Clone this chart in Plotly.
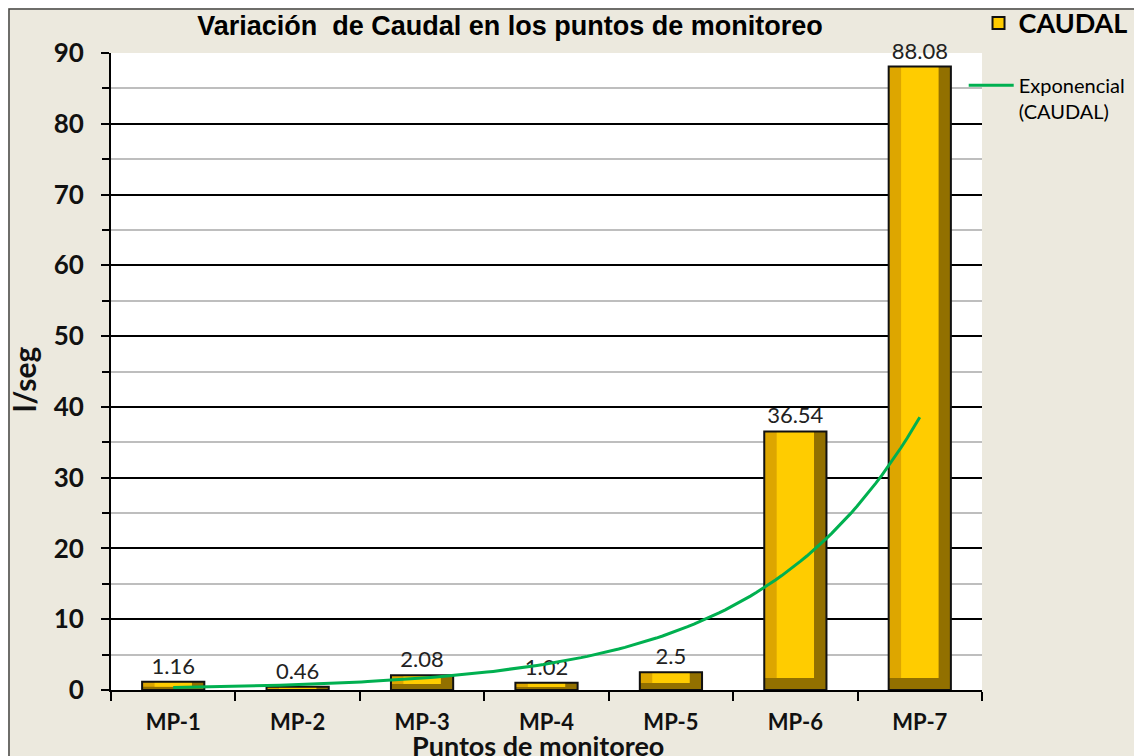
import numpy as np
import plotly.graph_objects as go

categories = ["MP-1", "MP-2", "MP-3", "MP-4", "MP-5", "MP-6", "MP-7"]
caudal = [1.16, 0.46, 2.08, 1.02, 2.5, 36.54, 88.08]
labels = ["1.16", "0.46", "2.08", "1.02", "2.5", "36.54", "88.08"]
y_ticks = [0, 10, 20, 30, 40, 50, 60, 70, 80, 90]

xpos = np.arange(1, len(categories) + 1)
vals = np.array(caudal)

# Excel-style exponential trendline (least squares on ln y)
b, ln_a = np.polyfit(xpos, np.log(vals), 1)
xt = np.linspace(1, len(categories), 120)
yt = np.exp(ln_a) * np.exp(b * xt)

BW = 0.5      # bar width (data units)
BV = 0.1      # side bevel width
hb = np.minimum(1.7, vals * 0.4)  # bottom bevel height

CALIBRI = "Lato, Carlito, Calibri, sans-serif"

W, H = 1130, 748
L, T, R, B = 103, 45, 156, 66
PW, PH = W - L - R, H - T - B

fig = go.Figure()
# dark body (right + bottom bevel)
fig.add_trace(go.Bar(x=xpos, y=vals, width=BW, offset=-BW / 2,
                     marker=dict(color="#927000", line=dict(width=0)),
                     showlegend=False, hoverinfo="skip"))
# left bevel
fig.add_trace(go.Bar(x=xpos, y=vals - hb, base=hb, width=BW - BV, offset=-BW / 2,
                     marker=dict(color="#DDA600", line=dict(width=0)),
                     showlegend=False, hoverinfo="skip"))
# face
fig.add_trace(go.Bar(x=xpos, y=vals - hb, base=hb, width=BW - 2 * BV, offset=-BW / 2 + BV,
                     marker=dict(color="#FFCC00", line=dict(width=0)),
                     showlegend=False, hoverinfo="skip"))
# outline + labels
fig.add_trace(go.Bar(x=xpos, y=vals, width=BW, offset=-BW / 2,
                     marker=dict(color="rgba(0,0,0,0)", line=dict(color="#111111", width=2)),
                     text=labels, textposition="outside", cliponaxis=False,
                     textfont=dict(family=CALIBRI, size=22, color="#222222"),
                     showlegend=False, hoverinfo="skip"))
# legend entry for bars
fig.add_trace(go.Bar(x=[None], y=[None], name="<b>CAUDAL</b>",
                     marker=dict(color="#FFCC00", line=dict(color="#111111", width=2)),
                     legend="legend", hoverinfo="skip"))
# trendline
fig.add_trace(go.Scatter(x=xt, y=yt, mode="lines", name="Exponencial<br>(CAUDAL)",
                         line=dict(color="#00B050", width=3), legend="legend2",
                         hoverinfo="skip"))

fig.update_layout(
    width=W, height=H,
    margin=dict(l=L, r=R, t=T, b=B, autoexpand=False),
    paper_bgcolor="#ECE9DE", plot_bgcolor="#FFFFFF",
    barmode="overlay",
    showlegend=True,
    title=dict(text="<b>Variación  de Caudal en los puntos de monitoreo</b>",
               x=502 / W, xanchor="center", xref="container",
               y=1 - 18 / H, yanchor="middle", yref="container",
               font=dict(family="Liberation Sans, Arial, sans-serif", size=27, color="#000000")),
    legend=dict(x=0.996, xanchor="left", y=1.085, yanchor="top",
                bgcolor="rgba(0,0,0,0)", itemwidth=30,
                font=dict(family=CALIBRI, size=27, color="#000000")),
    legend2=dict(x=0.979, xanchor="left", y=0.98, yanchor="top", valign="top",
                 bgcolor="rgba(0,0,0,0)", itemwidth=45,
                 font=dict(family=CALIBRI, size=20, color="#000000")),
    xaxis=dict(range=[0.5, len(categories) + 0.5], tickmode="array", tickvals=list(xpos),
               ticktext=categories, ticks="", showgrid=False, zeroline=False,
               showline=True, linecolor="#000000", linewidth=2, automargin=False,
               tickfont=dict(family=CALIBRI, size=22, color="#111111", weight="bold"),
               ticklabelstandoff=12,
               minor=dict(tickmode="linear", tick0=0.5, dtick=1, ticks="outside",
                          ticklen=9, tickwidth=2, tickcolor="#000000", showgrid=False)),
    yaxis=dict(range=[0, 90], tickmode="array", tickvals=y_ticks,
               ticks="outside", ticklen=8, tickwidth=2, tickcolor="#000000",
               showgrid=True, gridcolor="#000000", gridwidth=2, zeroline=False,
               showline=True, linecolor="#000000", linewidth=2, automargin=False,
               tickfont=dict(family=CALIBRI, size=26, color="#111111", weight="bold"),
               ticklabelstandoff=12,
               minor=dict(tickmode="linear", tick0=5, dtick=10, ticks="outside",
                          ticklen=7, tickwidth=2, tickcolor="#000000",
                          showgrid=True, gridcolor="#BEBEBE", gridwidth=2)),
    annotations=[
        dict(text="<b>Puntos de monitoreo</b>", xref="paper", yref="paper",
             x=427 / PW, y=-55 / PH, xanchor="center", yanchor="middle",
             showarrow=False, font=dict(family=CALIBRI, size=27, color="#111111")),
        dict(text="<b>l/seg</b>", xref="paper", yref="paper",
             x=-87 / PW, y=310 / PH, xanchor="center", yanchor="middle",
             textangle=-90, showarrow=False,
             font=dict(family=CALIBRI, size=30, color="#111111")),
    ],
    shapes=[dict(type="rect", xref="paper", yref="paper",
                 x0=(-L + 1) / PW, x1=(W - L - 1) / PW,
                 y0=-0.3, y1=(PH + T - 1) / PH,
                 line=dict(color="#444444", width=1.5), layer="below")],
)

fig.write_html("out.html")
